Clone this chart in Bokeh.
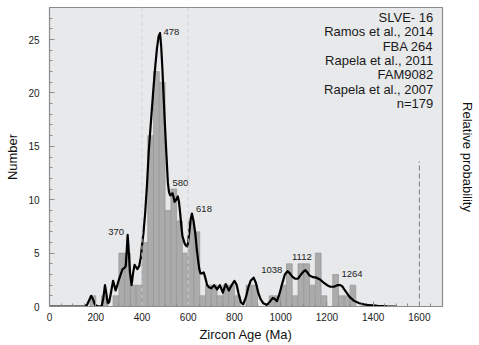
from bokeh.plotting import figure
from bokeh.models import Range1d, LinearAxis, SingleIntervalTicker, FixedTicker, Span, ColumnDataSource
from bokeh.embed import file_html
from bokeh.resources import INLINE
from bokeh.core.properties import value

# ---------------- data ----------------
BIN_WIDTH = 25
bin_left = [150, 175, 200, 225, 250, 275, 300, 325, 350, 375,
            400, 425, 450, 475, 500, 525, 550, 575, 600, 625,
            650, 675, 700, 725, 750, 775, 800, 825, 850, 875,
            900, 925, 950, 975, 1000, 1025, 1050, 1075, 1100, 1125,
            1150, 1175, 1200, 1225, 1250, 1275, 1300]
counts = [0, 1, 0, 1, 0, 1, 5, 5, 2, 2,
          6, 16, 22, 21, 9, 11, 8, 5, 8, 7,
          1, 2, 2, 1, 2, 2, 1, 0, 2, 2,
          0, 0, 1, 1, 2, 4, 1, 4, 4, 2,
          5, 1, 0, 3, 1, 1, 2]

curve_age = [0, 150, 162, 172, 180, 188, 197, 210, 226, 233, 240, 246, 252, 258, 265, 270, 275, 280,
             286, 292, 300, 308, 316, 324, 330, 334, 338, 342, 348, 355, 362, 368, 374, 380, 388, 395,
             400, 407, 414, 422, 429, 436, 443, 451, 458, 465, 472, 478, 483, 488, 493, 498, 503, 508,
             512, 517, 522, 527, 532, 537, 541, 548, 555, 560, 565, 570, 575, 583, 590, 597, 605, 611,
             616, 623, 631, 637, 643, 648, 653, 660, 667, 674, 682, 690, 700, 712, 725, 737, 750, 762,
             776, 788, 800, 810, 818, 828, 838, 850, 860, 870, 883, 893, 903, 913, 925, 941, 955, 966,
             975, 984, 995, 1006, 1018, 1030, 1040, 1050, 1062, 1075, 1088, 1100, 1107, 1115, 1125,
             1140, 1155, 1172, 1188, 1201, 1215, 1230, 1245, 1258, 1266, 1275, 1285, 1298, 1316, 1340,
             1360, 1385, 1420, 1460, 1500]
curve_val = [0, 0, 0.15, 0.6, 1.0, 0.7, 0.15, 0, 0.05, 0.8, 2.0, 1.2, 0.3, 0.4, 1.2, 1.8, 2.4, 2.0,
             1.5, 1.9, 2.5, 3.0, 3.5, 3.6, 3.8, 5.2, 6.7, 5.5, 3.2, 2.0, 3.2, 3.9, 3.7, 3.5, 3.8, 4.6,
             5.7, 7.0, 8.8, 11.5, 14.4, 16.5, 18.5, 20.8, 22.6, 24.2, 25.3, 25.6, 24.4, 22.4, 20.0, 17.6, 15.4, 13.3,
             11.6, 10.7, 10.4, 10.5, 10.6, 10.2, 9.8, 10.0, 10.3, 9.8, 8.8, 7.6, 6.6, 6.0, 5.7, 5.6, 7.0, 8.2,
             8.7, 8.0, 6.8, 5.4, 4.3, 3.5, 3.1, 3.1, 3.2, 2.7, 2.0, 1.8, 1.7, 2.0, 1.6, 2.0, 1.3, 2.1,
             1.5, 2.0, 2.4, 2.0, 1.2, 0.4, 0.2, 0.9, 1.8, 2.4, 2.7, 2.2, 1.3, 0.7, 0.3, 0.15, 0.5, 0.8,
             0.7, 0.5, 1.2, 2.1, 3.0, 3.3, 3.1, 2.8, 2.6, 2.6, 3.0, 3.3, 3.4, 3.2, 2.9,
             2.75, 2.7, 2.5, 2.2, 2.0, 1.85, 1.85, 2.0, 2.0, 1.9, 1.6, 1.3, 0.9, 0.55, 0.3,
             0.2, 0.12, 0.06, 0.02, 0]

peak_labels = ["370", "478", "580", "618", "1038", "1112", "1264"]
peak_label_x = [254, 493, 532, 634, 916, 1049, 1263]
peak_label_y = [7.0, 25.7, 11.6, 9.1, 3.4, 4.6, 3.0]

info_lines = ["SLVE- 16", "Ramos et al., 2014", "FBA 264", "Rapela et al., 2011",
              "FAM9082", "Rapela et al., 2007", "n=179"]

x_label = "Zircon Age (Ma)"
y_label = "Number"
y2_label = "Relative probability"

FONT = "Liberation Sans"

# ---------------- figure ----------------
p = figure(width=479, height=345, x_range=Range1d(0, 1700), y_range=Range1d(0, 28),
           output_backend="svg", toolbar_location=None,
           min_border_left=49, min_border_right=37, min_border_top=7, min_border_bottom=39)
p.background_fill_color = "#e8e9eb"
p.border_fill_color = "white"
p.outline_line_color = "#8c8c8c"
p.outline_line_width = 1.2
p.grid.visible = False

# reference lines
for xv in [400, 600]:
    p.add_layout(Span(location=xv, dimension="height", line_color="#d2d3d5",
                      line_dash="4 3", line_width=1))
p.segment(x0=[1600], y0=[0], x1=[1600], y1=[13.6], line_color="#7a7a7a",
          line_dash="5 3", line_width=1)

# histogram
src = ColumnDataSource(dict(
    left=bin_left,
    right=[b + BIN_WIDTH for b in bin_left],
    top=counts,
    bottom=[0] * len(counts),
))
p.quad(left="left", right="right", top="top", bottom="bottom", source=src,
       fill_color="#ababab", line_color="#969696", line_width=0.7)

# probability curve
p.line(curve_age, curve_val, line_color="black", line_width=2.2, line_join="round")

# peak labels
p.text(x=peak_label_x, y=peak_label_y, text=peak_labels, text_font=value(FONT),
       text_font_size="9.5px", text_color="#222222", text_baseline="middle", text_align="left")

# info block
info_top = 27.09
info_step = 1.35
p.text(x=[1660] * len(info_lines), y=[info_top - i * info_step for i in range(len(info_lines))],
       text=info_lines, text_font=value(FONT), text_font_size="13px", text_color="#1a1a1a",
       text_align="right", text_baseline="middle")

# axes
xa = p.xaxis[0]
xa.ticker = SingleIntervalTicker(interval=200, num_minor_ticks=4)
xa.axis_label = x_label
ya = p.yaxis[0]
ya.ticker = SingleIntervalTicker(interval=5, num_minor_ticks=5)
ya.axis_label = y_label

for ax in [xa, ya]:
    ax.axis_line_color = "#8c8c8c"
    ax.major_tick_in = 5
    ax.major_tick_out = 0
    ax.minor_tick_in = 3
    ax.minor_tick_out = 0
    ax.major_tick_line_color = "#8c8c8c"
    ax.minor_tick_line_color = "#8c8c8c"
    ax.major_label_text_font = FONT
    ax.major_label_text_font_size = "10px"
    ax.major_label_text_color = "#222222"
    ax.axis_label_text_font = FONT
    ax.axis_label_text_font_size = "13px"
    ax.axis_label_text_font_style = "normal"
    ax.axis_label_text_color = "#111111"

xa.major_label_standoff = 6
xa.axis_label_standoff = 3
ya.major_label_standoff = 10
ya.axis_label_standoff = 5

ra = LinearAxis(ticker=FixedTicker(ticks=[]), axis_label=y2_label)
ra.axis_line_color = None
ra.major_tick_line_color = None
ra.minor_tick_line_color = None
ra.major_label_text_font_size = "0px"
ra.axis_label_text_font = FONT
ra.axis_label_text_font_size = "13px"
ra.axis_label_text_font_style = "normal"
ra.axis_label_text_color = "#111111"
ra.axis_label_standoff = 17
p.add_layout(ra, "right")

open("out.html", "w").write(file_html(p, INLINE))
